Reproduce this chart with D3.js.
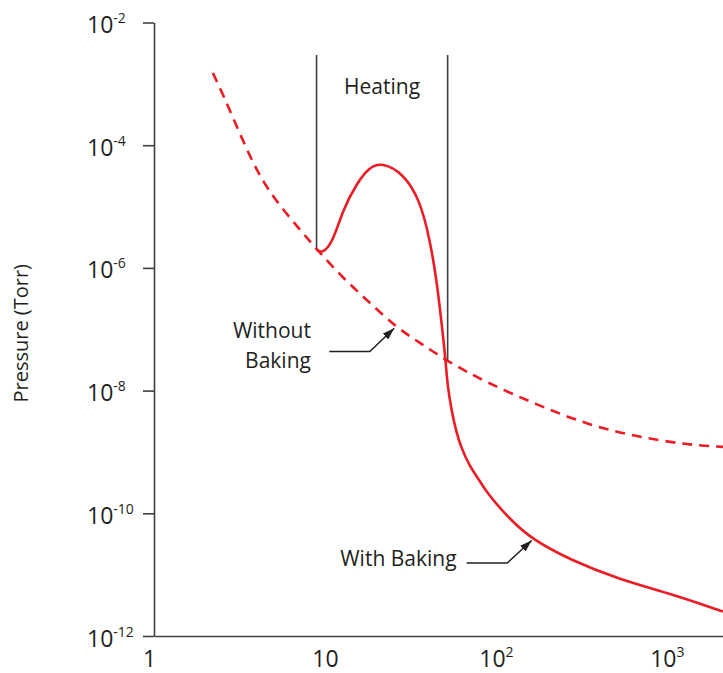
<!DOCTYPE html>
<html>
<head>
<meta charset="utf-8">
<script src="https://cdn.jsdelivr.net/npm/d3@7"></script>
<style>
  body { margin: 0; background: #fff; }
  svg { display: block; }
</style>
</head>
<body>
<svg id="chart"></svg>
<script>
// Time (h) vs pressure (Torr)
var withoutTime = [2.21, 2.67, 3.79, 4.97, 7.14, 8.97, 12.7, 18.3, 26.4, 36.0, 51.6, 88.5, 174, 340, 668, 1310, 2130];
var withoutPressure = [1.5e-3, 4.9e-4, 4.8e-5, 1.4e-5, 4.2e-6, 2.0e-6, 6.9e-7, 2.7e-7, 1.05e-7, 6.0e-8, 3.05e-8, 1.34e-8, 5.9e-9, 2.8e-9, 1.77e-9, 1.31e-9, 1.21e-9];

var withTime = [8.93, 9.57, 11.1, 12.7, 15.4, 18.3, 21.5, 28.6, 36.0, 41.1, 45.0, 48.1, 50.8, 52.0, 55.3, 58.9, 62.4, 70.5, 78.5, 88.3, 121, 164, 271, 531, 1000, 1990, 2130];
var withPressure = [2.02e-6, 1.69e-6, 2.56e-6, 8.8e-6, 2.43e-5, 4.43e-5, 5.2e-5, 3.53e-5, 1.28e-5, 2.86e-6, 6.4e-7, 1.27e-7, 3.18e-8, 1.24e-8, 4.35e-9, 2.05e-9, 1.21e-9, 5.7e-10, 3.79e-10, 2.16e-10, 7.9e-11, 3.71e-11, 1.75e-11, 8.3e-12, 5.1e-12, 2.68e-12, 2.5e-12];

var xTicks = [1, 10, 100, 1000];
var yTicks = [1e-2, 1e-4, 1e-6, 1e-8, 1e-10, 1e-12];

// heating period: start / end time, top of the marker lines, where each line stops
var heatingTime = [8.93, 52.2];
var heatingTop = 2.95e-3;
var heatingBottom = [2.02e-6, 3.05e-8];
var heatingLabelP = 6.8e-4;

// callouts: text anchor (time, pressure) and elbow path
var withoutLabel = { x: 8.28, p: 7.24e-8, lines: ['Without', 'Baking'] };
var withoutArrow = [[10.6, 4.34e-8], [18.3, 4.34e-8], [25.4, 1.04e-7]];
var withLabel = { x: 58.9, p: 1.36e-11, lines: ['With Baking'] };
var withArrow = [[67.4, 1.55e-11], [116.5, 1.55e-11], [161.8, 3.61e-11]];

var width = 723;
var height = 673;
var red = '#ed1c24';
var ink = '#231f20';
var axisColor = '#404040';
var font = '"Open Sans", sans-serif';

var svg = d3.select('#chart')
    .attr('width', width)
    .attr('height', height);

var x = d3.scaleLog()
    .domain([1, 2130])
    .range([154, 723]);

var y = d3.scaleLog()
    .domain([1e-12, 1e-2])
    .range([636, 22.5]);

function styleText(sel, size) {
    return sel.style('font-family', font)
        .style('font-size', (size || 21) + 'px')
        .attr('fill', ink);
}

// arrow head
svg.append('defs').append('marker')
    .attr('id', 'arrow')
    .attr('viewBox', '0 0 12 8')
    .attr('refX', 12)
    .attr('refY', 4)
    .attr('markerWidth', 12)
    .attr('markerHeight', 8)
    .attr('markerUnits', 'userSpaceOnUse')
    .attr('orient', 'auto')
    .append('path')
    .attr('d', 'M0,0 L12,4 L0,8 Z')
    .attr('fill', ink);

// X axis (line only, labels written into the tick texts)
var xAxis = svg.append('g')
    .attr('transform', `translate(0, ${y(1e-12)})`)
    .call(d3.axisBottom(x).tickValues(xTicks).tickSize(0).tickSizeOuter(0).tickFormat(() => ''));
xAxis.select('.domain').attr('stroke', axisColor).attr('stroke-width', 1.6);

xAxis.selectAll('.tick text')
    .call(styleText, 23)
    .attr('y', 31)
    .attr('dy', null)
    .each(function(d) {
        var t = d3.select(this);
        var e = Math.round(Math.log10(d));
        if (e === 0) { t.attr('dx', -5).text('1'); return; }
        t.append('tspan').text('10');
        if (e > 1) {
            t.append('tspan').attr('dy', -10).style('font-size', '14px').text(e);
        }
    });

// Y axis
var yAxis = svg.append('g')
    .attr('transform', `translate(${x(1)}, 0)`)
    .call(d3.axisLeft(y).tickValues(yTicks).tickSize(11).tickSizeOuter(0).tickFormat(() => ''));
yAxis.select('.domain').attr('stroke', axisColor).attr('stroke-width', 1.6);
yAxis.selectAll('.tick line').attr('stroke', axisColor).attr('stroke-width', 1.6);

yAxis.selectAll('.tick text')
    .call(styleText, 23)
    .attr('x', -67)
    .attr('y', 10)
    .attr('dy', null)
    .attr('text-anchor', 'start')
    .each(function(d) {
        var t = d3.select(this);
        var e = Math.round(Math.log10(d));
        t.append('tspan').text('10');
        t.append('tspan').attr('dy', -10).style('font-size', '14px').text('-' + Math.abs(e));
    });

// Y axis title
svg.append('text')
    .call(styleText, 20)
    .attr('transform', `translate(28, ${(y(1e-2) + y(1e-12)) / 2 + 4}) rotate(-90)`)
    .attr('text-anchor', 'middle')
    .text('Pressure (Torr)');

// Heating markers
svg.selectAll('.heat')
    .data(heatingTime)
    .enter()
    .append('line')
    .attr('class', 'heat')
    .attr('x1', d => x(d))
    .attr('x2', d => x(d))
    .attr('y1', y(heatingTop))
    .attr('y2', (d, i) => y(heatingBottom[i]))
    .attr('stroke', axisColor)
    .attr('stroke-width', 1.6);

svg.append('text')
    .call(styleText)
    .attr('x', (x(heatingTime[0]) + x(heatingTime[1])) / 2)
    .attr('y', y(heatingLabelP))
    .attr('text-anchor', 'middle')
    .text('Heating');

// curves
var line = d3.line()
    .x(d => x(d[0]))
    .y(d => y(d[1]))
    .curve(d3.curveBasis);

svg.append('path')
    .datum(d3.zip(withoutTime, withoutPressure))
    .attr('d', line)
    .attr('fill', 'none')
    .attr('stroke', red)
    .attr('stroke-width', 2.6)
    .attr('stroke-dasharray', '10,7');

svg.append('path')
    .datum(d3.zip(withTime, withPressure))
    .attr('d', line)
    .attr('fill', 'none')
    .attr('stroke', red)
    .attr('stroke-width', 2.6);

// callouts
var elbow = d3.line().x(d => x(d[0])).y(d => y(d[1]));

[[withoutLabel, withoutArrow], [withLabel, withArrow]].forEach(function(c) {
    var label = c[0];
    var txt = svg.append('text')
        .call(styleText)
        .attr('text-anchor', 'end')
        .attr('x', x(label.x))
        .attr('y', y(label.p));
    label.lines.forEach(function(s, i) {
        txt.append('tspan')
            .attr('x', x(label.x))
            .attr('dy', i === 0 ? 0 : 30)
            .text(s);
    });
    svg.append('path')
        .attr('d', elbow(c[1]))
        .attr('fill', 'none')
        .attr('stroke', ink)
        .attr('stroke-width', 1.5)
        .attr('marker-end', 'url(#arrow)');
});
</script>
</body>
</html>
